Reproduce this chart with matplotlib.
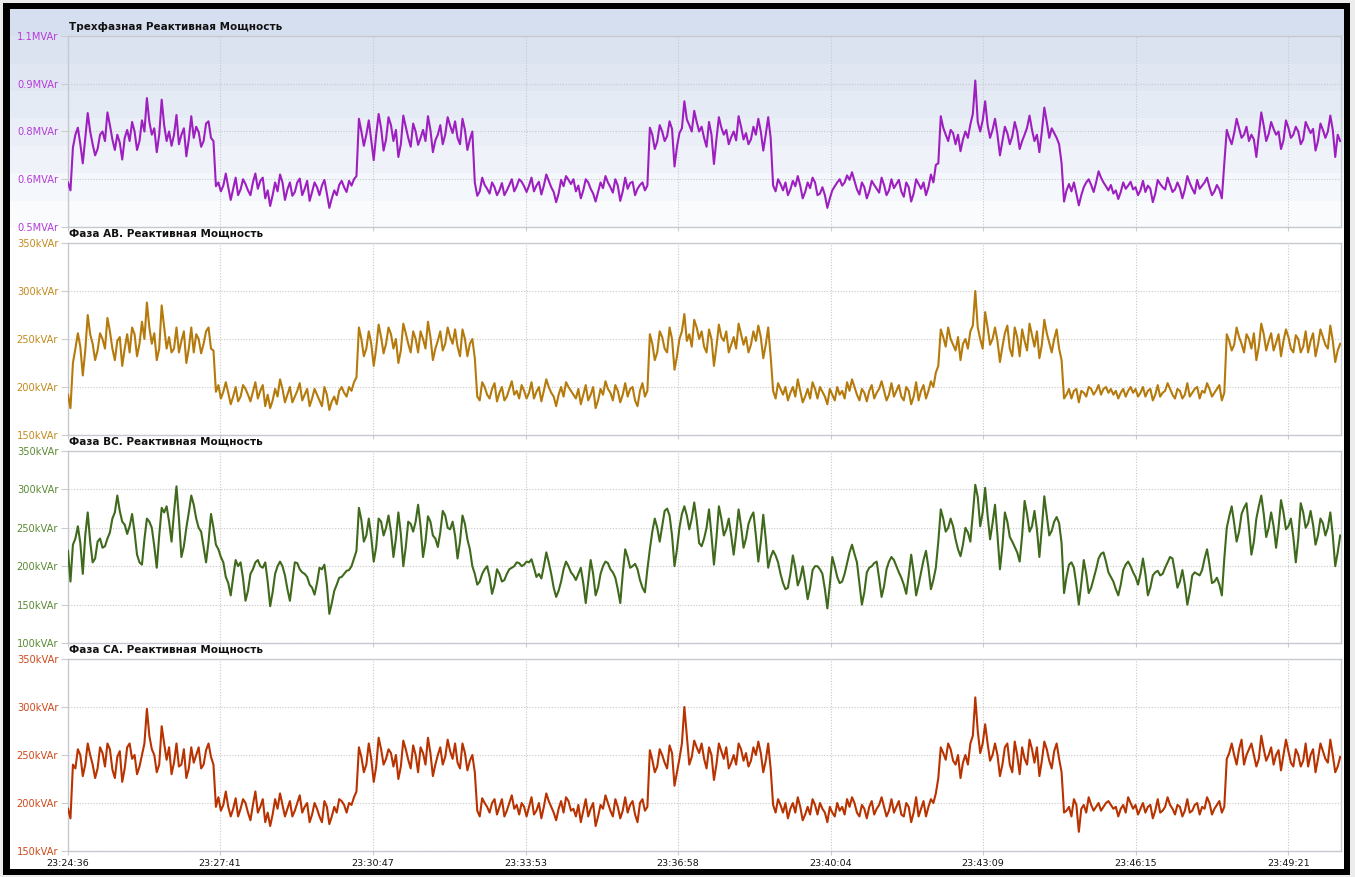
import matplotlib
matplotlib.use('Agg')
import matplotlib.pyplot as plt
import matplotlib.dates as mdates
from matplotlib.patches import Rectangle
import numpy as np
from datetime import datetime, timedelta

# ---------------- data ----------------
START = datetime(2024, 1, 1, 23, 24, 36)
SAMPLE_S = 3          # sampling period, seconds
SPAN_S = 1549         # visible time span, seconds

tick_labels = ["23:24:36", "23:27:41", "23:30:47", "23:33:53", "23:36:58",
               "23:40:04", "23:43:09", "23:46:15", "23:49:21"]

titles = ["Трехфазная Реактивная Мощность",
          "Фаза AB. Реактивная Мощность",
          "Фаза BC. Реактивная Мощность",
          "Фаза CA. Реактивная Мощность"]

# Readings at even samples (every 6 s), kVAr
three_phase_kvar = [
    640,
    750, 812, 700, 858, 760, 745, 800, 860, 775, 790, 712, 805, 830, 742, 835,
    905, 790, 735, 900, 770, 755, 852, 790, 722, 848, 815, 752, 825, 780,
    628, 612, 668, 585, 655, 618, 635, 600, 668, 645, 590, 566, 640, 665, 585,
    640, 610, 652, 620, 582, 640, 600, 648, 560, 615, 632, 625, 645, 650,
    840, 755, 835, 710, 855, 740, 845, 770, 720, 850, 780, 825, 758, 805, 848,
    735, 790, 760, 845, 795, 780, 840, 742, 800,
    598, 655, 620, 640, 600, 638, 615, 650, 628, 642, 610, 655, 630, 602, 665,
    625, 578, 648, 660, 635, 612, 590, 650, 620, 580, 640, 660, 625, 650, 582,
    655, 638, 600, 632, 615,
    812, 745, 820, 770, 832, 690, 795, 895, 820, 865, 800, 780, 830, 698, 845,
    790, 760, 800, 848, 775, 760, 815, 840, 740, 845,
    630, 650, 615, 600, 645, 660, 590, 640, 655, 600, 625, 560, 615, 640, 630,
    662, 672, 618, 640, 590, 645, 620, 655, 600, 650, 635, 612, 640, 580, 650,
    620, 600, 665, 695,
    848, 790, 805, 760, 738, 800, 822, 960, 800, 895, 780, 840, 725, 815, 760,
    830, 745, 790, 850, 770, 735, 875, 780, 795, 760,
    580, 635, 640, 568, 625, 650, 610, 675, 640, 615, 605, 588, 640, 630, 618,
    600, 645, 630, 578, 648, 625, 655, 610, 640, 590, 660, 620, 648, 630, 655,
    600, 632, 590,
    805, 760, 840, 780, 815, 790, 720, 860, 770, 830, 790, 745, 835, 780, 815,
    760, 830, 795, 740, 825, 780, 850, 720, 770,
]
# readings at odd samples (between the above), kVAr
three_phase_mid_kvar = [
    615,
    790, 760, 780, 800, 725, 790, 770, 820, 742, 765, 780, 770, 800, 770, 800,
    830, 810, 790, 820, 800, 790, 760, 810, 775, 780, 798, 770, 832, 770,
    640, 630, 625, 620, 600, 650, 615, 640, 620, 655, 615, 600, 612, 640, 618,
    598, 640, 600, 645, 610, 625, 630, 605, 590, 600, 645, 610, 630, 660,
    800, 790, 772, 790, 810, 775, 820, 805, 760, 815, 752, 800, 780, 770, 805,
    772, 820, 790, 818, 832, 760, 805, 775, 640,
    612, 632, 605, 625, 615, 600, 632, 612, 650, 628, 630, 612, 642, 630, 645,
    610, 605, 628, 648, 650, 630, 615, 640, 605, 610, 622, 640, 608, 630, 612,
    620, 642, 620, 640, 630,
    790, 768, 800, 785, 808, 752, 810, 838, 800, 830, 815, 752, 790, 775, 812,
    805, 782, 772, 815, 795, 775, 790, 800, 790, 780,
    612, 635, 640, 618, 628, 630, 610, 622, 640, 605, 600, 590, 628, 650, 640,
    648, 645, 602, 625, 612, 632, 608, 632, 615, 622, 648, 595, 625, 605, 635,
    640, 625, 640, 700,
    812, 770, 795, 790, 775, 780, 855, 830, 835, 820, 805, 790, 770, 795, 785,
    800, 770, 812, 805, 790, 800, 830, 810, 780, 700,
    615, 612, 605, 600, 640, 632, 640, 655, 628, 632, 615, 610, 620, 642, 625,
    615, 610, 620, 605, 635, 618, 632, 618, 622, 618, 638, 605, 620, 640, 625,
    612, 618, 700,
    780, 795, 810, 790, 770, 775, 790, 818, 792, 808, 800, 772, 812, 790, 800,
    775, 812, 808, 770, 805, 800, 805, 790,
]

phase_ab_kvar = [
    192,
    225, 256, 212, 275, 245, 238, 250, 272, 240, 248, 222, 255, 262, 232, 268,
    288, 245, 228, 285, 240, 236, 262, 248, 225, 262, 255, 235, 258, 240,
    195, 188, 205, 182, 200, 190, 198, 185, 205, 196, 180, 178, 198, 208, 184,
    200, 190, 204, 192, 180, 198, 186, 200, 176, 190, 196, 194, 200, 205,
    262, 232, 258, 222, 265, 235, 262, 240, 225, 266, 245, 258, 236, 250, 268,
    228, 248, 238, 262, 245, 242, 260, 232, 250,
    190, 205, 192, 198, 185, 200, 190, 206, 196, 202, 188, 205, 195, 185, 208,
    194, 180, 200, 205, 196, 188, 182, 202, 192, 178, 198, 206, 194, 202, 184,
    204, 198, 186, 196, 190,
    255, 228, 258, 240, 262, 218, 250, 276, 255, 270, 250, 242, 260, 222, 265,
    248, 236, 252, 266, 244, 236, 258, 264, 230, 262,
    196, 204, 192, 186, 200, 208, 184, 198, 205, 188, 195, 182, 192, 200, 196,
    205, 208, 192, 198, 185, 202, 194, 206, 186, 204, 196, 190, 200, 182, 205,
    196, 188, 206, 215,
    260, 242, 250, 238, 228, 250, 258, 300, 250, 278, 244, 262, 226, 256, 240,
    262, 232, 248, 266, 242, 230, 270, 246, 250, 240,
    188, 198, 196, 184, 194, 200, 192, 202, 198, 194, 192, 188, 198, 196, 194,
    190, 200, 196, 186, 202, 194, 204, 192, 198, 188, 204, 194, 200, 196, 204,
    190, 198, 186,
    255, 238, 262, 245, 255, 240, 228, 266, 238, 256, 246, 232, 260, 240, 254,
    236, 258, 248, 232, 260, 244, 264, 226, 245,
]
phase_ab_mid_kvar = [
    178,
    240, 242, 238, 255, 228, 256, 240, 258, 228, 252, 240, 236, 255, 245, 250,
    262, 256, 240, 262, 252, 240, 236, 258, 240, 236, 250, 245, 262, 238,
    202, 195, 194, 190, 185, 202, 192, 195, 188, 202, 192, 186, 190, 198, 192,
    184, 196, 186, 198, 188, 192, 180, 192, 185, 182, 200, 190, 196, 210,
    250, 240, 245, 240, 252, 245, 255, 250, 238, 256, 236, 250, 258, 240, 252,
    240, 258, 245, 252, 260, 232, 250, 245, 230,
    186, 200, 188, 204, 194, 186, 198, 192, 188, 196, 194, 188, 200, 196, 200,
    190, 192, 190, 200, 192, 198, 192, 186, 200, 186, 192, 198, 186, 196, 192,
    190, 200, 180, 204, 196,
    245, 236, 252, 236, 250, 232, 258, 248, 242, 262, 258, 236, 250, 242, 252,
    258, 244, 240, 255, 252, 244, 248, 252, 244, 232,
    188, 198, 200, 194, 190, 196, 190, 188, 198, 200, 190, 198, 186, 192, 188,
    196, 200, 186, 194, 196, 188, 198, 196, 192, 190, 202, 186, 196, 190, 186,
    202, 196, 200, 222,
    252, 262, 244, 252, 245, 240, 264, 262, 240, 262, 250, 248, 242, 264, 232,
    252, 260, 238, 254, 258, 244, 256, 236, 260, 228,
    192, 188, 198, 196, 190, 198, 196, 192, 200, 198, 196, 194, 190, 200, 198,
    194, 190, 198, 192, 190, 196, 198, 188, 196, 192, 190, 198, 188, 194, 198,
    194, 202, 194,
    248, 244, 252, 236, 250, 256, 242, 255, 248, 238, 255, 248, 252, 236, 250,
    242, 236, 256, 244, 252, 240, 248, 238,
]

phase_bc_kvar = [
    220,
    228, 252, 190, 270, 205, 232, 224, 236, 262, 292, 258, 242, 268, 215, 202,
    262, 250, 198, 276, 278, 232, 304, 212, 250, 292, 262, 245, 205, 268,
    228, 212, 186, 162, 208, 205, 155, 190, 205, 200, 205, 148, 190, 206, 188,
    155, 205, 196, 190, 176, 163, 198, 202, 138, 168, 185, 190, 195, 210,
    276, 232, 262, 206, 262, 240, 266, 212, 270, 200, 258, 245, 280, 212, 265,
    240, 225, 272, 250, 258, 210, 266, 235, 200,
    176, 190, 200, 164, 196, 180, 190, 198, 205, 200, 206, 209, 186, 184, 218,
    190, 160, 180, 206, 192, 182, 198, 152, 208, 162, 190, 206, 196, 185, 152,
    222, 198, 203, 182, 166,
    222, 262, 232, 272, 266, 200, 250, 278, 248, 283, 230, 236, 274, 202, 278,
    240, 262, 215, 274, 224, 255, 270, 206, 267, 198,
    220, 205, 178, 172, 214, 175, 200, 157, 195, 200, 190, 145, 212, 186, 180,
    204, 228, 205, 150, 192, 200, 206, 160, 196, 212, 200, 185, 164, 215, 162,
    192, 220, 170, 198,
    274, 245, 262, 235, 213, 250, 232, 306, 252, 302, 235, 280, 196, 270, 238,
    225, 206, 285, 245, 272, 212, 291, 240, 258, 256,
    165, 202, 198, 150, 208, 165, 184, 210, 218, 192, 180, 162, 195, 206, 192,
    176, 210, 162, 188, 194, 190, 205, 210, 172, 195, 150, 188, 190, 195, 222,
    178, 185, 162,
    250, 278, 232, 268, 282, 215, 262, 292, 238, 270, 224, 286, 248, 262, 205,
    282, 250, 272, 228, 262, 240, 270, 200, 240,
]
phase_bc_mid_kvar = [
    180,
    236, 230, 240, 232, 210, 236, 226, 244, 270, 272, 254, 252, 244, 205, 235,
    258, 226, 240, 270, 258, 270, 262, 226, 270, 280, 250, 225, 232, 250,
    222, 205, 178, 186, 200, 184, 168, 196, 208, 198, 180, 166, 200, 200, 170,
    180, 204, 192, 186, 172, 178, 196, 176, 152, 176, 186, 194, 200, 220,
    260, 240, 238, 225, 258, 250, 245, 236, 242, 225, 255, 258, 252, 232, 258,
    236, 244, 266, 248, 240, 232, 255, 222, 190,
    180, 196, 186, 176, 190, 182, 196, 200, 204, 202, 205, 198, 190, 200, 205,
    172, 168, 196, 200, 188, 190, 178, 180, 190, 172, 200, 204, 192, 170, 190,
    212, 200, 196, 172, 196,
    245, 250, 252, 275, 240, 222, 268, 266, 262, 260, 226, 250, 240, 236, 262,
    248, 240, 242, 252, 236, 264, 240, 232, 236, 212,
    214, 190, 170, 190, 198, 184, 180, 172, 200, 196, 170, 176, 200, 178, 190,
    218, 216, 178, 166, 198, 204, 184, 174, 206, 208, 192, 176, 188, 192, 176,
    208, 198, 182, 232,
    262, 250, 252, 222, 228, 244, 268, 290, 270, 266, 256, 240, 226, 258, 232,
    218, 240, 268, 252, 248, 250, 266, 246, 264, 230,
    186, 205, 176, 178, 190, 172, 196, 216, 206, 186, 170, 176, 202, 200, 186,
    190, 190, 172, 192, 188, 198, 212, 192, 180, 176, 166, 192, 188, 210, 202,
    180, 176, 210,
    265, 256, 245, 276, 250, 232, 278, 268, 250, 252, 250, 270, 252, 238, 236,
    270, 256, 254, 240, 256, 250, 240, 218,
]

phase_ca_kvar = [
    194,
    240, 256, 228, 262, 240, 236, 252, 262, 235, 248, 222, 258, 246, 230, 250,
    298, 256, 232, 280, 245, 230, 262, 240, 226, 258, 250, 236, 255, 248,
    196, 192, 212, 186, 205, 194, 200, 182, 212, 196, 180, 176, 204, 210, 186,
    202, 192, 208, 196, 180, 200, 186, 202, 178, 196, 204, 198, 200, 206,
    258, 232, 262, 222, 268, 240, 256, 238, 225, 265, 245, 260, 232, 252, 268,
    228, 250, 240, 266, 246, 242, 262, 234, 250,
    192, 205, 196, 200, 188, 204, 192, 208, 198, 200, 186, 206, 192, 184, 210,
    196, 182, 202, 206, 192, 186, 180, 204, 194, 176, 198, 208, 192, 204, 184,
    206, 198, 188, 200, 192,
    255, 232, 256, 242, 260, 218, 246, 300, 240, 265, 252, 246, 258, 224, 262,
    246, 236, 250, 262, 244, 238, 258, 264, 232, 262,
    198, 204, 190, 184, 200, 206, 182, 196, 204, 188, 194, 180, 190, 200, 196,
    204, 206, 190, 198, 184, 202, 194, 206, 186, 204, 196, 188, 200, 180, 206,
    194, 186, 204, 210,
    258, 245, 256, 240, 226, 250, 262, 310, 252, 282, 244, 262, 228, 258, 240,
    264, 230, 246, 266, 242, 228, 264, 244, 254, 246,
    190, 196, 204, 170, 198, 206, 192, 200, 196, 202, 194, 186, 198, 206, 194,
    188, 200, 196, 184, 204, 192, 206, 194, 198, 186, 204, 192, 200, 196, 206,
    188, 198, 190,
    246, 262, 240, 266, 250, 262, 238, 270, 244, 258, 250, 234, 266, 242, 256,
    238, 262, 250, 232, 262, 246, 266, 232, 248,
]
phase_ca_mid_kvar = [
    184,
    236, 250, 240, 250, 226, 258, 238, 256, 226, 254, 236, 262, 250, 238, 262,
    270, 250, 240, 262, 258, 242, 238, 256, 236, 242, 258, 240, 262, 240,
    206, 198, 196, 194, 186, 204, 190, 198, 190, 204, 190, 188, 194, 198, 194,
    186, 200, 190, 200, 188, 194, 180, 196, 186, 190, 202, 190, 198, 212,
    248, 240, 246, 238, 256, 246, 252, 250, 238, 256, 236, 250, 258, 240, 252,
    240, 258, 248, 254, 262, 236, 252, 244, 232,
    186, 200, 190, 204, 196, 186, 200, 194, 188, 196, 196, 188, 200, 196, 202,
    190, 194, 190, 202, 194, 198, 192, 186, 200, 186, 194, 200, 186, 196, 192,
    190, 202, 180, 204, 196,
    245, 238, 250, 236, 252, 232, 262, 270, 248, 258, 262, 236, 250, 240, 254,
    258, 242, 240, 256, 252, 244, 250, 252, 244, 236,
    190, 198, 200, 194, 190, 196, 188, 188, 198, 200, 190, 196, 186, 192, 188,
    196, 200, 186, 194, 196, 188, 198, 196, 192, 190, 202, 186, 196, 190, 186,
    202, 196, 200, 226,
    252, 262, 244, 250, 242, 240, 270, 275, 262, 262, 250, 250, 240, 262, 232,
    250, 258, 240, 256, 258, 244, 256, 236, 262, 232,
    192, 186, 198, 194, 190, 198, 196, 192, 200, 198, 196, 194, 190, 200, 198,
    194, 190, 198, 192, 190, 196, 198, 188, 196, 192, 190, 198, 188, 194, 200,
    194, 202, 196,
    252, 250, 256, 240, 256, 250, 246, 256, 250, 240, 255, 250, 254, 238, 250,
    244, 238, 256, 246, 254, 242, 250, 238,
]

series_even = [three_phase_kvar, phase_ab_kvar, phase_bc_kvar, phase_ca_kvar]
series_odd = [three_phase_mid_kvar, phase_ab_mid_kvar, phase_bc_mid_kvar, phase_ca_mid_kvar]

y_limits = [(500, 1100), (150, 350), (100, 350), (150, 350)]
y_ticks = [[500, 650, 800, 950, 1100],
           [150, 200, 250, 300, 350],
           [100, 150, 200, 250, 300, 350],
           [150, 200, 250, 300, 350]]
y_ticklabels = [["0.5MVAr", "0.6MVAr", "0.8MVAr", "0.9MVAr", "1.1MVAr"],
                ["150kVAr", "200kVAr", "250kVAr", "300kVAr", "350kVAr"],
                ["100kVAr", "150kVAr", "200kVAr", "250kVAr", "300kVAr", "350kVAr"],
                ["150kVAr", "200kVAr", "250kVAr", "300kVAr", "350kVAr"]]

line_colors = ["#9e1fc0", "#b57a0c", "#3f6a1c", "#b83300"]
label_colors = ["#b43ad8", "#c28a1e", "#5b8a34", "#cf4a1c"]

# ---------------- layout (pixels) ----------------
W, H = 1355, 877
AX_L, AX_R = 68, 1341
panels_px = [(36, 227), (243, 435), (451, 643), (659, 851)]
title_y = [27, 234, 442, 650]

fig = plt.figure(figsize=(W / 100, H / 100), dpi=100, facecolor="#ececec")

bg = fig.add_axes([0, 0, 1, 1])
bg.axis("off")
bg.add_patch(Rectangle((3, 3), 1347, 872, facecolor="black", edgecolor="none"))
bg.add_patch(Rectangle((10, 10), 1334, 859, facecolor="white", edgecolor="none"))
top_c = np.array([214, 223, 240]) / 255.0
bands = np.array([top_c + (1 - top_c) * k / 8.0 for k in range(8)]).reshape(8, 1, 3)
bg.imshow(bands, extent=(10, 1344, 228, 9), aspect="auto", interpolation="nearest",
          origin="upper", zorder=1)
bg.set_xlim(0, W)
bg.set_ylim(H, 0)

for k, t in enumerate(titles):
    bg.text(69, title_y[k], t, fontsize=7.5, fontweight="bold", color="#111111",
            ha="left", va="center", zorder=5)

tick_dt = [datetime.combine(START.date(), datetime.strptime(s, "%H:%M:%S").time())
           for s in tick_labels]

for k in range(4):
    top_px, bot_px = panels_px[k]
    ax = fig.add_axes([AX_L / W, 1 - bot_px / H, (AX_R - AX_L) / W, (bot_px - top_px) / H])
    ax.set_facecolor("none")
    ev = np.asarray(series_even[k], dtype=float)
    od = np.asarray(series_odd[k], dtype=float)
    vals = np.empty(len(ev) + len(od))
    vals[0::2] = ev
    vals[1::2] = od
    times = [START + timedelta(seconds=SAMPLE_S * i) for i in range(len(vals))]
    ax.plot(times, vals, color=line_colors[k], lw=1.5, zorder=3)
    ax.set_xlim(START, START + timedelta(seconds=SPAN_S))
    ax.set_ylim(*y_limits[k])
    ax.set_yticks(y_ticks[k])
    ax.set_yticklabels(y_ticklabels[k])
    ax.set_xticks(tick_dt)
    ax.xaxis.set_major_formatter(mdates.DateFormatter("%H:%M:%S"))
    ax.grid(True, color="#c8c8c8", linestyle=(0, (1, 1.5)), linewidth=0.8, zorder=1)
    for sp in ax.spines.values():
        sp.set_color("#c6cacf")
        sp.set_linewidth(1.0)
    ax.tick_params(axis="y", length=5, color="#cccccc", pad=2, labelsize=7.1,
                   labelcolor=label_colors[k])
    ax.tick_params(axis="x", length=3, color="#cccccc", pad=3, labelsize=6.8,
                   labelcolor="#111111", labelbottom=(k == 3))

fig.savefig("out.png", dpi=100, facecolor=fig.get_facecolor())
